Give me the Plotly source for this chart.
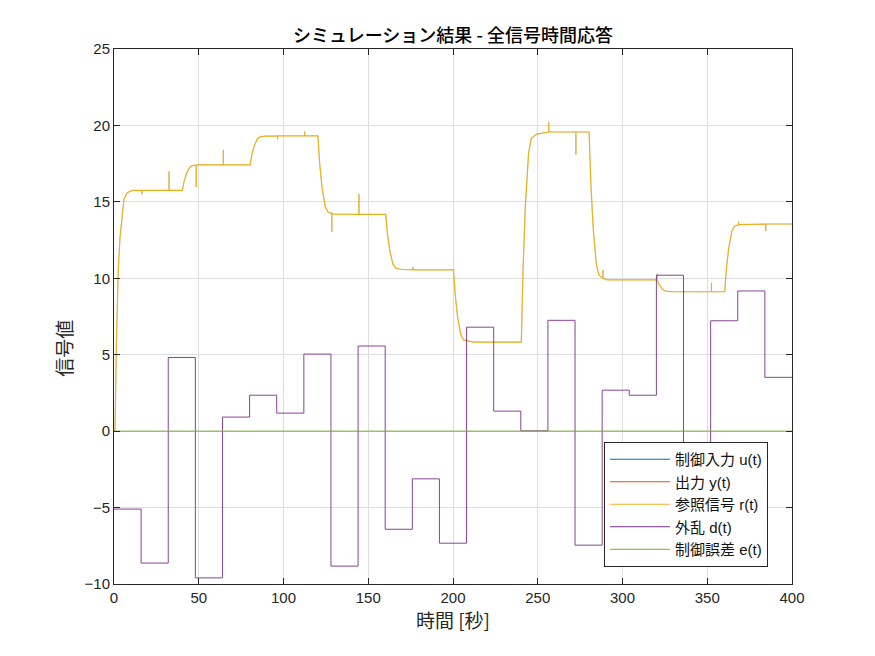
import plotly.graph_objects as go

# ---- disturbance d(t): piecewise constant, changes every 16 s ----
d_t = [0, 16, 32, 48, 64, 80, 96, 112, 128, 144, 160, 176, 192, 208, 224,
       240, 256, 272, 288, 304, 320, 336, 352, 368, 384, 400]
d_v = [-5.1, -8.63, 4.82, -9.6, 0.92, 2.35, 1.18, 5.04, -8.83, 5.57, -6.42,
       -3.12, -7.33, 6.8, 1.31, 0.02, 7.25, -7.46, 2.68, 2.35, 10.2, -2.28,
       7.22, 9.17, 3.52, 3.52]

# ---- reference r(t) (output y(t) and input u(t) track it closely) ----
r_t = [0, 0.6, 1.4, 2.5, 3.5, 4.5, 5.9, 7.8, 10.8,
       16.5, 16.5, 16.5, 32.5, 32.5, 32.5,
       40.3, 41.3, 42.7, 43.7, 44.6, 46.2, 48.5, 48.5, 48.5, 49.3,
       64.5, 64.5, 64.5,
       80.3, 81.3, 82.7, 83.7, 84.6, 86.2, 89.3,
       96.5, 96.5, 96.5, 112.5, 112.5, 112.5,
       120.3, 121.3, 122.7, 123.7, 124.6, 126.2, 128.5, 128.5, 128.5, 129.3,
       144.5, 144.5, 144.5,
       160.3, 161.3, 162.7, 163.7, 164.6, 166.2, 169.3,
       176.5, 176.5, 176.5,
       200.3, 201.3, 202.7, 203.7, 204.6, 206.2, 209.3, 212,
       240.3, 241.3, 242.7, 243.7, 244.6, 246.2, 249.3,
       256.5, 256.5, 256.5, 272.5, 272.5, 272.5,
       280.3, 281.3, 282.7, 283.7, 284.6, 286.2, 288.5, 288.5, 288.5, 291,
       320.3, 320.5, 320.5, 321.3, 322.7, 323.7, 324.6, 326.2, 329.3,
       352.5, 352.5, 352.5,
       360.3, 361.3, 362.7, 363.7, 364.6, 366.2, 368.5, 368.5, 368.5, 369.3,
       384.5, 384.5, 384.5, 400]
r_v = [0, 0, 5.7, 10.5, 12.6, 13.9, 15.2, 15.6, 15.75,
       15.75, 15.5, 15.75, 15.75, 17.0, 15.75,
       15.75, 16.32, 16.84, 17.09, 17.25, 17.37, 17.40, 15.97, 17.40, 17.42,
       17.42, 18.4, 17.42,
       17.42, 18.07, 18.65, 18.94, 19.13, 19.26, 19.30,
       19.32, 19.1, 19.32, 19.32, 19.6, 19.32,
       19.32, 17.57, 15.98, 15.21, 14.69, 14.33, 14.25, 13.04, 14.25, 14.2,
       14.18, 15.5, 14.18,
       14.18, 12.95, 11.82, 11.28, 10.91, 10.66, 10.59,
       10.55, 10.75, 10.55,
       10.55, 8.95, 7.48, 6.77, 6.30, 5.97, 5.88, 5.83,
       5.83, 10.5, 14.76, 16.82, 18.2, 19.16, 19.43,
       19.57, 20.2, 19.57, 19.57, 18.1, 19.57,
       19.57, 16.28, 13.28, 11.83, 10.87, 10.19, 10.0, 10.54, 10.0, 9.9,
       9.9, 10.3, 9.9, 9.63, 9.39, 9.28, 9.2, 9.14, 9.13,
       9.12, 9.7, 9.12,
       9.12, 10.63, 12.0, 12.66, 13.11, 13.42, 13.5, 13.7, 13.5, 13.51,
       13.55, 13.1, 13.55, 13.55]

# ---- control input u(t), output y(t) overlap r(t) ----
u_t, u_v = r_t, r_v
y_t, y_v = r_t, r_v

# ---- control error e(t) ~ 0 ----
e_t = [0, 400]
e_v = [0, 0]

names = ["制御入力 u(t)", "出力 y(t)", "参照信号 r(t)", "外乱 d(t)", "制御誤差 e(t)"]
colors = ["#0072BD", "#D95319", "#EDB120", "#7E2F8E", "#77AC30"]
widths = [0.4, 0.4, 1.2, 1.0, 1.0]
opac = [0.3, 0.3, 1.0, 0.9, 1.0]
series = [(u_t, u_v, "linear"), (y_t, y_v, "linear"), (r_t, r_v, "linear"),
          (d_t, d_v, "hv"), (e_t, e_v, "linear")]

fig = go.Figure()
for i, (xs, ys, shp) in enumerate(series):
    fig.add_trace(go.Scatter(x=xs, y=ys, mode="lines", name=names[i],
                             legendgroup=str(i), showlegend=False, opacity=opac[i],
                             line=dict(color=colors[i], width=widths[i], shape=shp)))
# legend entries (uniform line sample width)
for i in range(5):
    fig.add_trace(go.Scatter(x=[None], y=[None], mode="lines", name=names[i],
                             legendgroup=str(i), showlegend=True,
                             line=dict(color=colors[i], width=1.2)))

font_fam = "Liberation Sans, Noto Sans CJK JP, sans-serif"
axis_common = dict(
    showgrid=True, gridcolor="#dedede", gridwidth=1,
    showline=True, linecolor="#262626", linewidth=1, mirror="ticks",
    ticks="inside", ticklen=6, tickcolor="#262626",
    tickfont=dict(size=15, color="#262626", family=font_fam),
    zeroline=False, automargin=False,
)

L, T = 106, 41
fig.update_layout(
    width=875, height=656,
    margin=dict(l=L, r=875 - L - 678, t=T, b=656 - T - 535),
    paper_bgcolor="white", plot_bgcolor="white",
    font=dict(family=font_fam, color="#262626"),
    title=dict(text="シミュレーション結果 - 全信号時間応答",
               x=0.5, xref="paper", y=1 - 28 / 656, yref="container",
               xanchor="center", yanchor="middle",
               font=dict(size=18, family="Noto Sans CJK JP", color="#000000",
                         weight=500)),
    xaxis=dict(range=[0, 400], dtick=50, tick0=0,
               title=dict(text="時間 [秒]", standoff=8,
                          font=dict(size=19, family="Noto Sans CJK JP", color="#262626")),
               **axis_common),
    yaxis=dict(range=[-10, 25], dtick=5, tick0=0, **axis_common),
    annotations=[dict(text="信号値", xref="paper", yref="paper",
                      x=-0.075, y=0.44, xanchor="center", yanchor="middle",
                      textangle=-90, showarrow=False,
                      font=dict(size=19, family="Noto Sans CJK JP", color="#262626"))],
    legend=dict(x=(767 - 113) / 678, xanchor="right",
                y=(583 - 566) / 535, yanchor="bottom",
                bgcolor="white", bordercolor="#262626", borderwidth=1,
                font=dict(size=15, family=font_fam, color="#111111"),
                itemwidth=60, tracegroupgap=0),
    showlegend=True,
)

fig.write_html("out.html")
